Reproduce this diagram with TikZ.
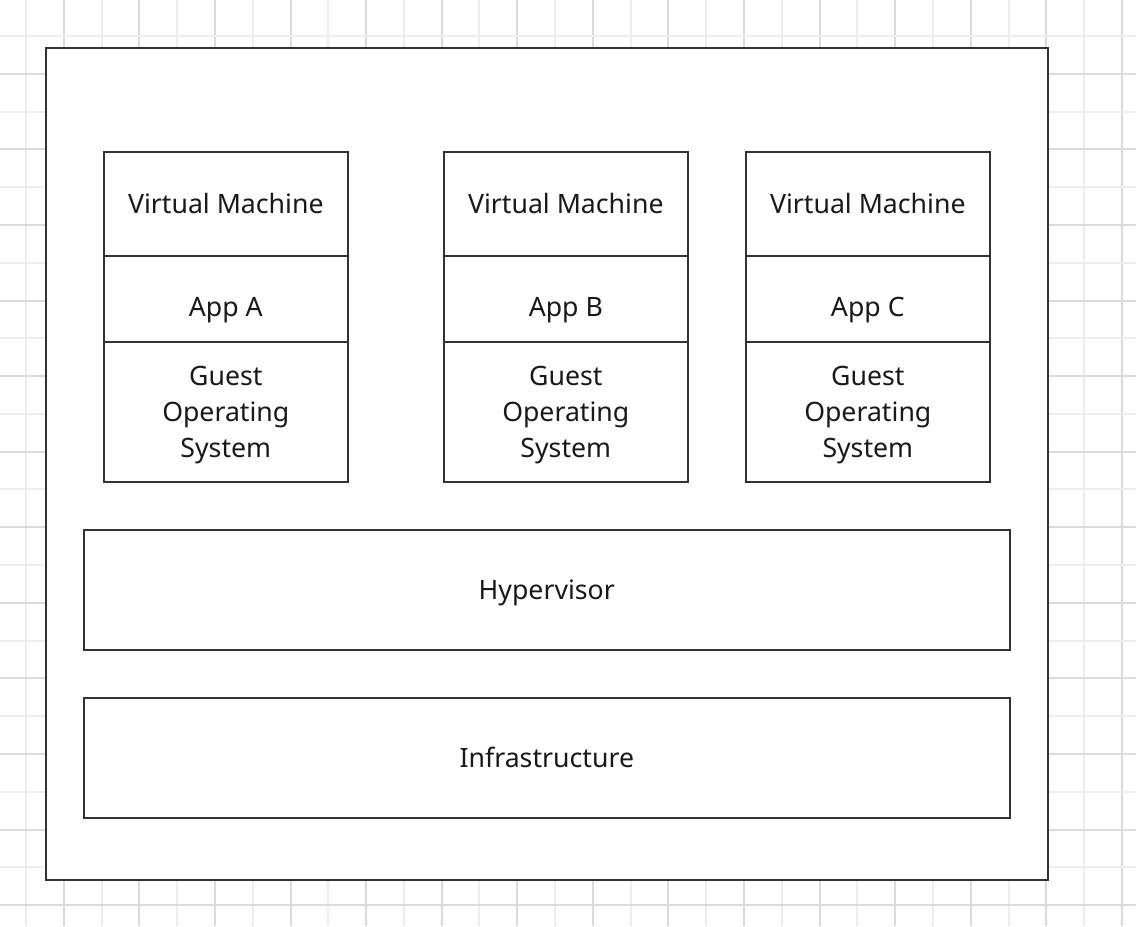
\documentclass[tikz,border=0pt]{standalone}
\usepackage{fontspec}
\setmainfont{Noto Sans}
\begin{document}
\begin{tikzpicture}[x=0.75pt,y=-0.75pt,
  gridlight/.style={draw=black!7,line width=1.5pt},
  griddark/.style={draw=black!14,line width=1.5pt},
  frame/.style={draw=black!80,line width=1.5pt,fill=white},
  cell/.style n args={2}{draw=black!80,line width=1.2pt,minimum width=#1*0.75pt,minimum height=#2*0.75pt,inner sep=0pt,anchor=north west},
  txt/.style={font=\fontsize{20}{27}\selectfont,align=center,text=black!90}]
\useasboundingbox (0,0) rectangle (1136,926);
\fill[white] (0,0) rectangle (1136,926);
% grid
\foreach \k in {0,...,29}{
  \pgfmathsetmacro\xx{26+37.79*\k}
  \pgfmathtruncatemacro\odd{mod(\k,2)}
  \ifnum\odd=1 \draw[griddark] (\xx,0) -- (\xx,926); \else \draw[gridlight] (\xx,0) -- (\xx,926); \fi
}
\foreach \k in {0,...,23}{
  \pgfmathsetmacro\yy{36+37.79*\k}
  \pgfmathtruncatemacro\odd{mod(\k,2)}
  \ifnum\odd=1 \draw[griddark] (0,\yy) -- (1136,\yy); \else \draw[gridlight] (0,\yy) -- (1136,\yy); \fi
}
% outer frame
\node[frame,minimum width=1002*0.75pt,minimum height=832*0.75pt,inner sep=0pt,anchor=north west] (outer) at (45,47) {};
% VM columns
\foreach \x/\n/\L in {103/a/A,443/b/B,745/c/C}{
  \node[cell={244}{104}] (vm\n) at (\x,151) {};
  \node[cell={244}{86}] (app\n) at (\x,255) {};
  \node[cell={244}{140}] (os\n) at (\x,341) {};
  \node[txt] (vmt\n) at ([yshift=0.3pt]vm\n.center) {Virtual Machine};
  \node[txt] (appt\n) at ([yshift=-8.8pt]app\n.center) {App \L};
  \node[txt] (ost\n) at ([yshift=-2.6pt]os\n.center) {Guest\\Operating\\System};
}
\node[cell={926}{120}] (hyp) at (83,529) {};
\node[txt] (hypt) at ([yshift=-2.3pt]hyp.center) {Hypervisor};
\node[cell={926}{120}] (inf) at (83,697) {};
\node[txt] (inft) at (inf.center) {Infrastructure};
\end{tikzpicture}
\end{document}
